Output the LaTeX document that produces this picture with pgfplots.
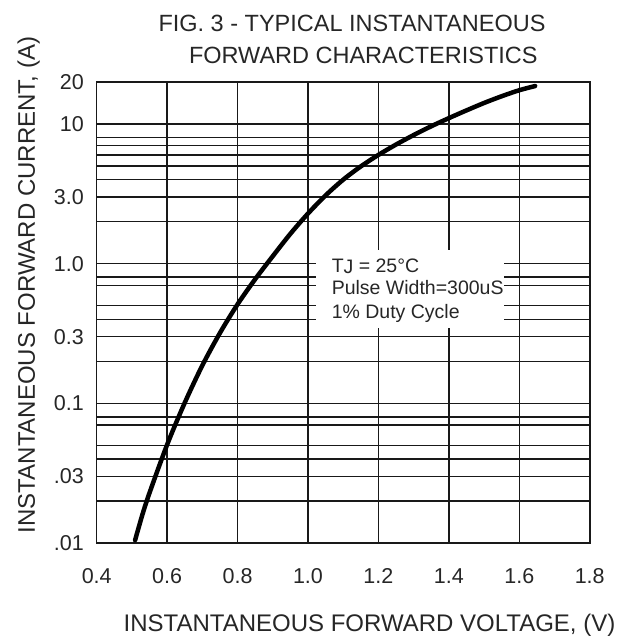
\documentclass[border=0pt]{standalone}
\usepackage{fontspec}
\setmainfont{Liberation Sans}
\usepackage{pgfplots}
\pgfplotsset{compat=1.18}
\begin{document}
\begin{tikzpicture}
\useasboundingbox (-96.7pt,-97pt) rectangle (528.3pt,543pt);
\begin{axis}[
  at={(0pt,0pt)}, anchor=south west,
  scale only axis, width=493pt, height=461pt,
  xmin=0.4, xmax=1.8, ymin=0.01, ymax=20,
  ymode=log,
  xtick={0.4,0.6,0.8,1.0,1.2,1.4,1.6,1.8},
  xticklabels={0.4,0.6,0.8,1.0,1.2,1.4,1.6,1.8},
  ytick={0.01,0.03,0.1,0.3,1,3,10,20},
  yticklabels={.01,.03,0.1,0.3,1.0,3.0,10,20},
  minor ytick={0.02,0.04,0.05,0.07,0.08,0.2,0.4,0.5,0.7,0.8,2,4,5,6,7,8},
  grid=both,
  major grid style={black!90, line width=1.5pt},
  minor grid style={black!90, line width=1.5pt},
  major tick length=0pt, minor tick length=0pt,
  axis line style={black!90, line width=1.6pt},
  tick label style={font=\fontsize{21.5}{24}\selectfont, text=black!85},
  xticklabel style={anchor=base, inner sep=0pt, yshift=-40.5pt},
  yticklabel style={anchor=east, inner sep=0pt, xshift=-12.7pt},
  /pgf/number format/assume math mode=true,
]
\fill[white] (axis cs:1.023,0.347) rectangle (axis cs:1.557,1.254);
\addplot[black, line width=4.5pt, smooth, line cap=round] coordinates {
(0.509,0.01047) (0.53,0.01603) (0.55,0.02286) (0.60,0.05058) (0.65,0.1009)
(0.70,0.1868) (0.75,0.3192) (0.80,0.5117) (0.85,0.7745) (0.90,1.132)
(0.95,1.637) (1.00,2.286) (1.05,3.083) (1.10,3.996) (1.15,4.972)
(1.20,6.012) (1.25,7.129) (1.30,8.337) (1.35,9.638) (1.40,11.02)
(1.45,12.52) (1.50,14.15) (1.55,15.81) (1.60,17.46) (1.645,18.71)
};
\node[anchor=base west, inner sep=0pt, font=\fontsize{19.5}{23}\selectfont, text=black!85] at (axis cs:1.067,0.868) {T\raisebox{-1.5pt}{J} = 25\textdegree C};
\node[anchor=base west, inner sep=0pt, font=\fontsize{19.5}{23}\selectfont, text=black!85] at (axis cs:1.067,0.597) {Pulse Width=300uS};
\node[anchor=base west, inner sep=0pt, font=\fontsize{19.5}{23}\selectfont, text=black!85] at (axis cs:1.067,0.406) {1\% Duty Cycle};
\end{axis}
\node[anchor=base, inner sep=0pt, font=\fontsize{23.5}{28}\selectfont, text=black!85] at (255.3pt,511.3pt) {FIG. 3 - TYPICAL INSTANTANEOUS};
\node[anchor=base, inner sep=0pt, font=\fontsize{23.5}{28}\selectfont, text=black!85] at (266.6pt,479pt) {FORWARD CHARACTERISTICS};
\node[anchor=base, inner sep=0pt, font=\fontsize{24}{28}\selectfont, text=black!85] at (272.8pt,-88.7pt) {INSTANTANEOUS FORWARD VOLTAGE, (V)};
\node[anchor=base, inner sep=0pt, rotate=90, font=\fontsize{24}{28}\selectfont, text=black!85] at (-61.7pt,258pt) {INSTANTANEOUS FORWARD CURRENT, (A)};
\end{tikzpicture}
\end{document}
